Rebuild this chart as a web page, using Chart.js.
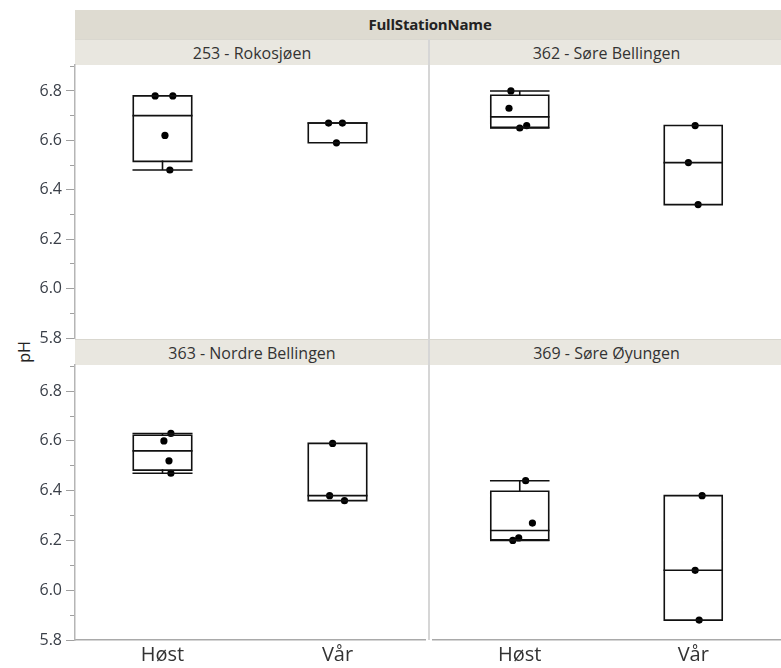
<!DOCTYPE html>
<html>
<head>
<meta charset="utf-8">
<script src="https://cdn.jsdelivr.net/npm/chart.js@4"></script>
<style>
  html, body { margin: 0; padding: 0; background: #fff; overflow: hidden; width: 781px; height: 668px; }
  body { position: relative; font-family: "Open Sans", "Noto Sans", sans-serif; }
  .band { position: absolute; box-sizing: border-box; text-align: center; color: #333; white-space: nowrap; }
  .main { left: 75px; top: 10px; width: 710px; height: 29px; line-height: 29px; background: #dedbd1; font-weight: bold; font-size: 15px; color: #222; letter-spacing: -0.2px; }
  .sub { height: 26px; line-height: 26px; width: 355px; background: #e9e7e0; font-size: 16px; border-top: 1px solid #d9d7cf; }
  .sep { position: absolute; left: 428px; top: 39px; width: 1.5px; height: 601px; background: #d6d6d6; }
  .ylab { position: absolute; left: 24px; top: 352px; transform: translate(-50%, -50%) rotate(-90deg); font-size: 16px; color: #222; }
  canvas { position: absolute; }
</style>
</head>
<body>
<div class="band main">FullStationName</div>
<div class="band sub" id="s0" style="left:75px; top:39px; width:354px;"></div>
<div class="band sub" id="s1" style="left:429px; top:39px;"></div>
<div class="band sub" id="s2" style="left:75px; top:339px; width:354px;"></div>
<div class="band sub" id="s3" style="left:429px; top:339px;"></div>
<div class="sep"></div>
<div class="ylab">pH</div>
<canvas id="c0" width="429" height="306" style="left:0; top:49px;"></canvas>
<canvas id="c1" width="355" height="306" style="left:429px; top:49px;"></canvas>
<canvas id="c2" width="429" height="319" style="left:0; top:349px;"></canvas>
<canvas id="c3" width="355" height="319" style="left:429px; top:349px;"></canvas>
<script>
// Stations and seasons
const stations = ['253 - Rokosjøen', '362 - Søre Bellingen', '363 - Nordre Bellingen', '369 - Søre Øyungen'];
const seasons = ['Høst', 'Vår'];
const yTickLabels = ['5.8', '6.0', '6.2', '6.4', '6.6', '6.8'];

// pH measurements per station and season
const ph253Host = [6.78, 6.78, 6.62, 6.48];
const ph253Var  = [6.67, 6.67, 6.59];
const ph362Host = [6.80, 6.73, 6.65, 6.66];
const ph362Var  = [6.66, 6.51, 6.34];
const ph363Host = [6.63, 6.60, 6.52, 6.47];
const ph363Var  = [6.59, 6.38, 6.36];
const ph369Host = [6.44, 6.27, 6.20, 6.21];
const ph369Var  = [6.38, 6.08, 5.88];

// Horizontal jitter of the points, in category units
const jit253Host = [-0.042, 0.059, 0.014, 0.042];
const jit253Var  = [-0.051, 0.028, -0.006];
const jit362Host = [-0.051, -0.062, 0.0, 0.040];
const jit362Var  = [0.011, -0.028, 0.028];
const jit363Host = [0.048, 0.008, 0.037, 0.048];
const jit363Var  = [-0.028, -0.045, 0.040];
const jit369Host = [0.034, 0.073, -0.040, -0.006];
const jit369Var  = [0.051, 0.011, 0.034];

const FONT = '"Open Sans", "Noto Sans", sans-serif';
const HALF = 0.167;          // half box width, category units
const Y_MIN = 5.8, Y_MAX = 6.905;

// Quantile at p using the (n+1)p position rule
function quantile(sorted, p) {
  const n = sorted.length;
  let pos = p * (n + 1);
  pos = Math.min(Math.max(pos, 1), n);
  const lo = Math.floor(pos), frac = pos - lo;
  if (lo >= n) return sorted[n - 1];
  return sorted[lo - 1] + frac * (sorted[lo] - sorted[lo - 1]);
}

function boxStats(vals) {
  const s = [...vals].sort((a, b) => a - b);
  const q1 = quantile(s, 0.25), med = quantile(s, 0.5), q3 = quantile(s, 0.75);
  const iqr = q3 - q1;
  const lo = Math.min(...s.filter(v => v >= q1 - 1.5 * iqr));
  const hi = Math.max(...s.filter(v => v <= q3 + 1.5 * iqr));
  return { q1, med, q3, lo, hi };
}

const gap = () => ({ x: null, y: null });

function makePanel(canvasId, groups, jitters, showX, showY, padTop, padBottom) {
  const boxPts = [], medPts = [], whiskPts = [], dots = [];
  groups.forEach((vals, i) => {
    const st = boxStats(vals);
    const L = i - HALF, R = i + HALF;
    boxPts.push({ x: L, y: st.q1 }, { x: R, y: st.q1 }, { x: R, y: st.q3 }, { x: L, y: st.q3 }, { x: L, y: st.q1 }, gap());
    medPts.push({ x: L, y: st.med }, { x: R, y: st.med }, gap());
    if (st.lo < st.q1) {
      whiskPts.push({ x: i, y: st.q1 }, { x: i, y: st.lo }, gap(), { x: L, y: st.lo }, { x: R, y: st.lo }, gap());
    }
    if (st.hi > st.q3) {
      whiskPts.push({ x: i, y: st.q3 }, { x: i, y: st.hi }, gap(), { x: L, y: st.hi }, { x: R, y: st.hi }, gap());
    }
    vals.forEach((v, k) => dots.push({ x: i + jitters[i][k], y: v }));
  });

  const lineDs = (data) => ({
    data, showLine: true, spanGaps: false, pointRadius: 0,
    borderColor: '#111', borderWidth: 1.6, borderJoinStyle: 'miter', borderCapStyle: 'square', fill: false
  });

  new Chart(document.getElementById(canvasId), {
    type: 'scatter',
    data: {
      datasets: [
        lineDs(boxPts),
        lineDs(medPts),
        lineDs(whiskPts),
        { data: dots, showLine: false, pointRadius: 3.6, pointBackgroundColor: '#000', pointBorderWidth: 0, pointBorderColor: '#000' }
      ]
    },
    options: {
      responsive: false,
      animation: false,
      events: [],
      layout: { padding: { top: padTop, bottom: padBottom, left: 0, right: 0 } },
      plugins: { legend: { display: false }, tooltip: { enabled: false } },
      scales: {
        x: {
          type: 'linear', min: -0.5, max: 1.5, display: showX,
          afterBuildTicks: s => { s.ticks = seasons.map((_, i) => ({ value: i })); },
          afterFit: s => { s.height = showX ? 28 : 0; },
          ticks: { callback: (v, i) => seasons[i], font: { size: 20, family: FONT }, color: '#333', padding: 3, maxRotation: 0, autoSkip: false },
          grid: { display: false, drawTicks: false },
          border: { display: true, color: '#a9a9a9', width: 1.5 }
        },
        y: {
          type: 'linear', min: Y_MIN, max: Y_MAX, display: showY,
          afterFit: s => { s.width = showY ? 75 : 0; },
          ticks: {
            stepSize: 0.1, includeBounds: false, autoSkip: false, padding: 4,
            font: { size: 16, family: FONT }, color: '#3a3f48',
            callback: v => { const t = v.toFixed(1); return yTickLabels.includes(t) ? t : ''; }
          },
          grid: {
            display: true, drawOnChartArea: false, drawTicks: true, tickLength: 9,
            tickColor: '#a0a0a0', tickWidth: 1,
            tickBorderDash: ctx => (ctx.tick && yTickLabels.includes(ctx.tick.value.toFixed(1))) ? [] : [0, 4, 20]
          },
          border: { display: true, color: '#b5b5b5', width: 1.5 }
        }
      }
    }
  });
}

stations.forEach((name, i) => { document.getElementById('s' + i).textContent = name; });

makePanel('c0', [ph253Host, ph253Var], [jit253Host, jit253Var], false, true, 16, 17);
makePanel('c1', [ph362Host, ph362Var], [jit362Host, jit362Var], false, false, 16, 17);
makePanel('c2', [ph363Host, ph363Var], [jit363Host, jit363Var], true, true, 16, 0);
makePanel('c3', [ph369Host, ph369Var], [jit369Host, jit369Var], true, false, 16, 0);
</script>
</body>
</html>
